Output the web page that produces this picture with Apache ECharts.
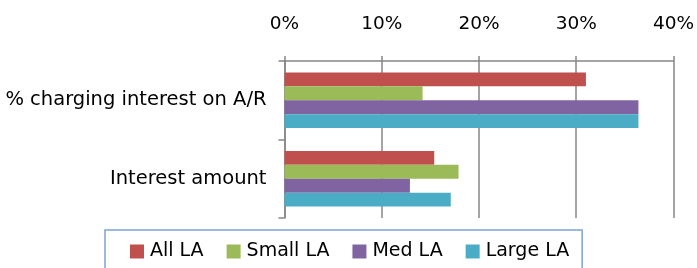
<!DOCTYPE html>
<html><head><meta charset="utf-8">
<script src="https://cdn.jsdelivr.net/npm/echarts@6/dist/echarts.min.js"></script>
<style>html,body{margin:0;padding:0;background:#fff}#c{width:697px;height:268px}</style>
</head><body><div id="c"></div>
<script>
const categories = ['% charging interest on A/R', 'Interest amount'];
const seriesNames = ['All LA', 'Small LA', 'Med LA', 'Large LA'];
const allLA = [0.310, 0.154];
const smallLA = [0.142, 0.179];
const medLA = [0.364, 0.129];
const largeLA = [0.364, 0.171];
const tickValues = [0, 0.1, 0.2, 0.3, 0.4];
const colors = ['#C0504D', '#9BBB59', '#8064A2', '#4BACC6'];
const values = [allLA, smallLA, medLA, largeLA];
const FONT = 'DejaVu Sans';
const chart = echarts.init(document.getElementById('c'), null, {renderer: 'canvas'});
chart.setOption({
  animation: false,
  grid: {left: 284.5, right: 22.7, top: 61, bottom: 50, containLabel: false},
  xAxis: {
    type: 'value', position: 'top', min: tickValues[0], max: tickValues[tickValues.length - 1], interval: 0.1,
    axisLine: {show: true, lineStyle: {color: '#868686', width: 1.5}},
    axisTick: {show: true, length: 5, lineStyle: {color: '#868686', width: 1.5}},
    splitLine: {show: true, lineStyle: {color: '#868686', width: 1.5}},
    axisLabel: {formatter: v => Math.round(v * 100) + '%', fontSize: 18.5, color: '#000', fontFamily: FONT, margin: 27}
  },
  yAxis: {
    type: 'category', data: categories, inverse: true,
    axisLine: {show: true, lineStyle: {color: '#868686', width: 1.5}},
    axisTick: {show: true, length: 6, lineStyle: {color: '#868686', width: 1.5}},
    axisLabel: {fontSize: 19.5, color: '#000', fontFamily: FONT, margin: 18}
  },
  legend: {
    data: seriesNames, left: 105, top: 230, orient: 'horizontal',
    icon: 'rect', itemWidth: 14, itemHeight: 14, itemGap: 23,
    textStyle: {fontSize: 19, color: '#000', fontFamily: FONT, padding: [0, 0, 0, 1]},
    borderColor: '#7FA3D3', borderWidth: 1.5, padding: [12, 13, 40, 25]
  },
  series: seriesNames.map((n, i) => ({
    name: n, type: 'bar', data: values[i], barGap: '0%', barCategoryGap: '29%',
    itemStyle: {color: colors[i]}
  }))
});
</script></body></html>
